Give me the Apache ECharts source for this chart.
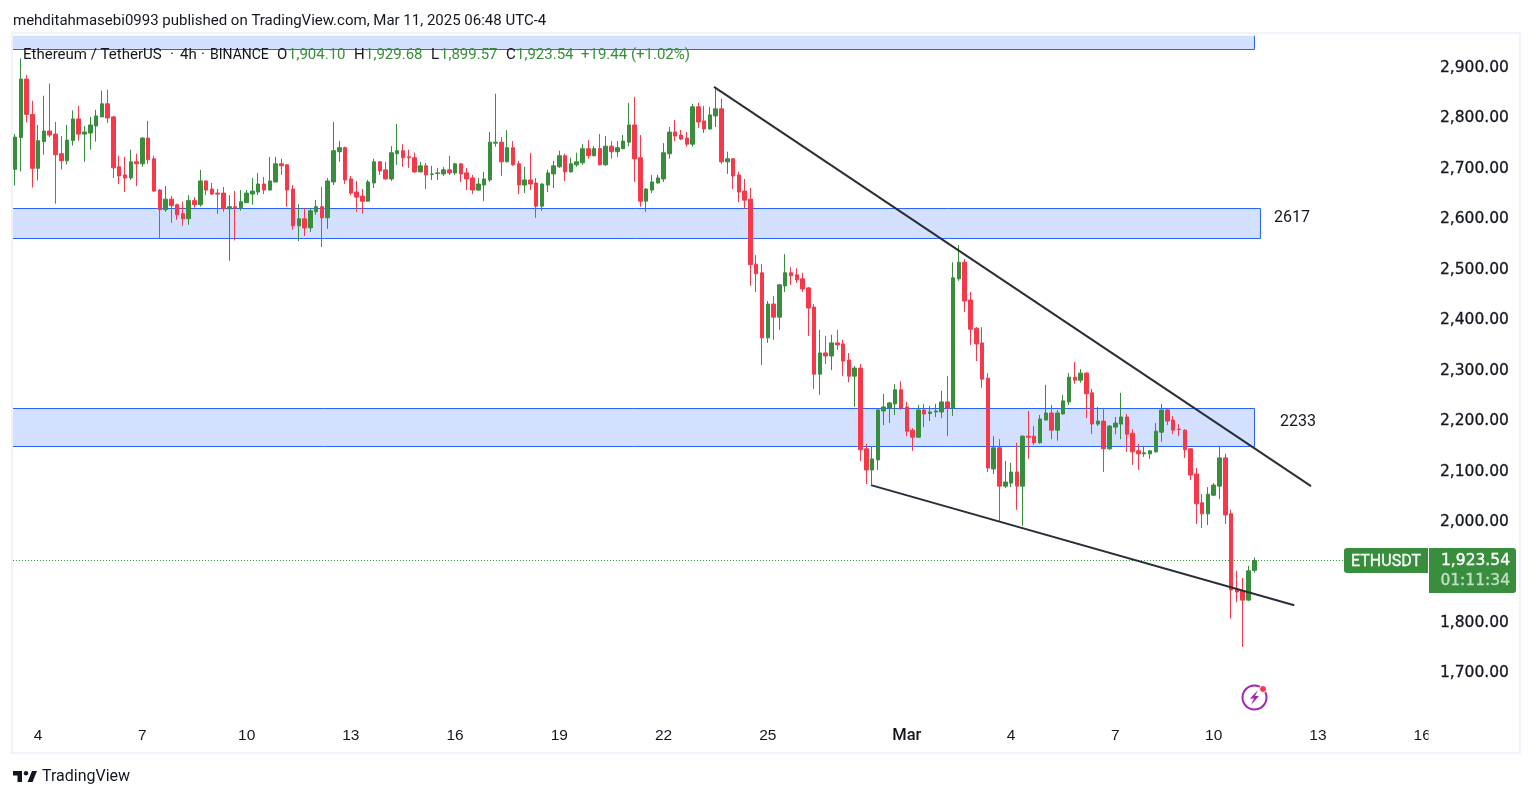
<!DOCTYPE html>
<html>
<head>
<meta charset="utf-8">
<title>ETHUSDT 4h</title>
<style>
  html, body { margin: 0; padding: 0; background: #fff; }
  #chart { width: 1533px; height: 798px; }
</style>
<script src="https://cdn.jsdelivr.net/npm/echarts@6/dist/echarts.min.js"></script>
</head>
<body>
<div id="chart"></div>
<script>
// 4h candles, about 2 USD per pixel
const opens = [
  2699,2762,2878,2808,2701,2754,2775,2769,2730,2716,
  2756,2799,2769,2771,2785,2803,2829,2803,2704,2688,
  2682,2714,2710,2761,2720,2658,2619,2640,2629,2611,
  2601,2637,2629,2676,2660,2652,2652,2621,2625,2623,
  2633,2650,2654,2670,2658,2674,2710,2708,2660,2587,
  2601,2583,2615,2625,2603,2674,2734,2742,2680,2654,
  2646,2636,2672,2714,2698,2680,2730,2736,2724,2722,
  2694,2706,2689,2691,2690,2698,2692,2710,2692,2682,
  2658,2668,2678,2751,2753,2714,2742,2710,2668,2678,
  2672,2626,2668,2690,2704,2726,2694,2708,2712,2740,
  2726,2740,2708,2745,2734,2740,2753,2787,2722,2636,
  2658,2672,2680,2730,2773,2767,2761,2749,2823,2795,
  2779,2805,2819,2714,2720,2688,2656,2640,2511,2494,
  2365,2432,2406,2468,2494,2490,2482,2464,2426,2293,
  2335,2329,2355,2353,2321,2289,2305,2145,2103,2123,
  2220,2226,2234,2262,2228,2182,2168,2222,2215,2218,
  2218,2238,2226,2482,2515,2440,2384,2355,2285,2105,
  2147,2071,2077,2099,2071,2170,2170,2157,2202,2216,
  2182,2214,2238,2287,2281,2295,2256,2194,2200,2145,
  2188,2194,2208,2176,2141,2135,2135,2139,2178,2222,
  2202,2184,2182,2145,2095,2038,2016,2053,2071,2127,
  2016,1867,1863,1845,1904.10
];
const closes = [
  2763,2878,2808,2701,2756,2775,2767,2728,2716,2757,
  2799,2769,2773,2787,2805,2829,2801,2702,2686,2682,
  2714,2710,2761,2718,2656,2619,2640,2627,2609,2601,
  2637,2629,2676,2658,2650,2650,2621,2625,2623,2635,
  2652,2656,2670,2658,2676,2710,2706,2658,2587,2601,
  2583,2617,2625,2603,2676,2736,2742,2678,2652,2644,
  2636,2674,2714,2696,2680,2732,2736,2722,2722,2694,
  2706,2688,2690,2692,2698,2692,2710,2690,2680,2658,
  2670,2680,2753,2753,2714,2742,2708,2668,2678,2670,
  2626,2670,2692,2706,2726,2694,2710,2714,2740,2726,
  2740,2708,2745,2734,2742,2755,2787,2720,2636,2660,
  2674,2682,2732,2773,2765,2759,2749,2823,2793,2779,
  2807,2819,2714,2720,2686,2654,2638,2510,2492,2365,
  2432,2406,2470,2494,2488,2480,2462,2424,2293,2335,
  2329,2355,2351,2319,2289,2305,2143,2103,2125,2222,
  2228,2236,2262,2226,2180,2168,2222,2214,2218,2220,
  2238,2226,2484,2515,2438,2382,2353,2283,2107,2147,
  2071,2079,2099,2071,2170,2168,2157,2204,2216,2182,
  2216,2240,2287,2281,2295,2254,2194,2200,2145,2190,
  2196,2208,2174,2139,2135,2137,2141,2180,2222,2200,
  2182,2183,2143,2093,2036,2016,2055,2073,2127,2014,
  1865,1861,1845,1903,1923.54
];
const lows = [
  2667,2695,2792,2663,2677,2728,2763,2631,2699,2709,
  2746,2756,2714,2738,2754,2803,2791,2682,2670,2654,
  2678,2666,2704,2710,2654,2561,2615,2593,2599,2587,
  2589,2623,2625,2648,2648,2611,2615,2518,2558,2617,
  2633,2629,2648,2650,2657,2673,2688,2625,2579,2557,
  2567,2575,2609,2545,2581,2668,2714,2670,2648,2615,
  2611,2635,2662,2688,2679,2676,2708,2704,2702,2692,
  2693,2660,2678,2678,2686,2688,2688,2674,2658,2650,
  2656,2636,2674,2744,2686,2713,2706,2650,2652,2658,
  2603,2617,2654,2662,2702,2676,2693,2704,2708,2720,
  2725,2707,2706,2720,2724,2739,2745,2674,2625,2615,
  2652,2671,2674,2720,2755,2757,2744,2744,2781,2771,
  2778,2783,2710,2690,2660,2634,2621,2468,2456,2311,
  2355,2361,2381,2456,2470,2474,2456,2369,2264,2252,
  2313,2301,2341,2289,2277,2228,2121,2075,2075,2103,
  2192,2196,2212,2222,2170,2141,2167,2188,2200,2208,
  2206,2170,2210,2478,2416,2351,2319,2266,2099,2095,
  2002,2067,2069,2024,1992,2125,2153,2155,2201,2164,
  2161,2213,2232,2274,2276,2206,2174,2190,2099,2143,
  2174,2164,2139,2113,2103,2129,2125,2137,2159,2192,
  2174,2170,2127,2083,1996,1988,1994,2051,2045,1996,
  1808,1841,1752,1843,1899.57
];
const highs = [
  2769,2919,2886,2835,2787,2845,2869,2793,2765,2787,
  2816,2825,2785,2803,2817,2855,2857,2805,2726,2724,
  2738,2730,2763,2795,2726,2660,2666,2646,2631,2635,
  2648,2644,2698,2677,2672,2660,2664,2648,2656,2658,
  2658,2682,2692,2684,2724,2724,2720,2709,2668,2630,
  2622,2622,2638,2664,2682,2793,2755,2744,2686,2676,
  2660,2678,2720,2715,2714,2745,2789,2749,2738,2732,
  2714,2712,2706,2702,2704,2726,2712,2711,2702,2688,
  2682,2694,2773,2849,2763,2777,2755,2716,2704,2732,
  2682,2671,2698,2716,2736,2730,2722,2732,2749,2757,
  2745,2769,2765,2755,2755,2767,2831,2843,2767,2662,
  2688,2688,2751,2783,2797,2777,2773,2829,2831,2825,
  2823,2861,2839,2734,2721,2694,2680,2662,2529,2511,
  2438,2448,2472,2531,2505,2503,2494,2466,2432,2381,
  2369,2371,2381,2361,2335,2309,2313,2155,2150,2226,
  2254,2238,2273,2279,2238,2186,2232,2234,2230,2234,
  2260,2289,2515,2549,2521,2456,2386,2386,2295,2170,
  2164,2121,2117,2157,2172,2220,2190,2212,2272,2232,
  2222,2252,2295,2317,2303,2297,2264,2228,2226,2192,
  2208,2256,2214,2184,2155,2151,2142,2196,2234,2224,
  2210,2194,2184,2146,2107,2055,2069,2077,2151,2135,
  2024,1903,1889,1913,1929.68
];

// slots on the time axis, the last ones stay empty
const slotCount = 245;
const tickSlots = [4, 22, 40, 58, 76, 94, 112, 130, 154, 172, 190, 207, 225, 243];
const tickLabels = ['4', '7', '10', '13', '16', '19', '22', '25', 'Mar', '4', '7', '10', '13', '16'];

const lastPrice = 1923.54;
const priceMin = 1600;
const priceMax = 2964;
const priceStep = 100;

// [slot where it starts, slot where it ends, low, high]
const zoneTop = [-0.35, 214.04, 2936.64, 2964];
const zone2617 = [-0.35, 215.07, 2561.94, 2621.4];
const zone2233 = [-0.35, 214.04, 2149.57, 2224.9];

// [slot, price]
const trendUpper = [[120.7, 2862.5], [223.8, 2071]];
const trendLower = [[147.8, 2073], [220.9, 1835]];
const lastPriceLine = [[-0.35, lastPrice], [229.7, lastPrice]];

const UP = '#388e3c';
const DOWN = '#f7374a';
const INK = '#131722';
const ZONE_LINE = '#2962ff';
const UI_FONT = 'Roboto, sans-serif';
const PRICE_FONT = '"DejaVu Sans", sans-serif';

const slots = [];
for (let i = 0; i < slotCount; i++) slots.push(String(i));
const candles = opens.map((o, i) => [o, closes[i], lows[i], highs[i]]);

function zoneArea(z) {
  return [{ coord: [z[0], z[3]] }, { coord: [z[1], z[2]] }];
}

// no border on the left, the zones run off the chart there
function zoneOutline(z) {
  return {
    type: 'line', xAxisIndex: 1, z: 1, symbol: 'none', silent: true,
    data: [[z[0], z[3]], [z[1], z[3]], [z[1], z[2]], [z[0], z[2]]],
    lineStyle: { color: ZONE_LINE, width: 1 }
  };
}

function text(x, y, str, size, color, extra) {
  return {
    type: 'text', x: x, y: y, z: 20,
    style: Object.assign({
      text: str, fill: color, fontFamily: UI_FONT, fontSize: size,
      verticalAlign: 'middle', align: 'left'
    }, extra || {})
  };
}

const graphics = [
  // chart frame
  { type: 'rect', z: -1, shape: { x: 12, y: 33, width: 1508, height: 720 },
    style: { fill: 'none', stroke: '#f0f3fa', lineWidth: 2 } },

  text(13, 21, 'mehditahmasebi0993 published on TradingView.com, Mar 11, 2025 06:48 UTC-4', 15, INK),

  // legend row
  text(23, 55, 'Ethereum / TetherUS', 15, INK),
  text(170, 55, '·', 15, INK),
  text(180, 55, '4h', 15, INK),
  text(201, 55, '·', 15, INK),
  text(210, 55, 'BINANCE', 14, INK),
  text(277, 55, 'O', 15, INK),
  text(288, 55, '1,904.10', 15, UP),
  text(354, 55, 'H', 15, INK),
  text(365, 55, '1,929.68', 15, UP),
  text(431, 55, 'L', 15, INK),
  text(440, 55, '1,899.57', 15, UP),
  text(506, 55, 'C', 15, INK),
  text(516, 55, '1,923.54', 15, UP),
  text(581, 55, '+19.44 (+1.02%)', 15, UP),

  // zone notes
  text(1274, 218, '2617', 16, INK),
  text(1280, 422, '2233', 16, INK),

  // last price tags
  { type: 'rect', z: 19, shape: { x: 1344, y: 548, width: 84, height: 25, r: [3, 0, 0, 3] }, style: { fill: UP } },
  { type: 'rect', z: 19, shape: { x: 1429, y: 548, width: 87, height: 45, r: [0, 3, 3, 0] }, style: { fill: UP } },
  text(1386, 562, 'ETHUSDT', 16, '#fff', { align: 'center', stroke: '#fff', lineWidth: 0.3 }),
  text(1510, 561, '1,923.54', 15.5, '#fff', { align: 'right', fontFamily: PRICE_FONT, stroke: '#fff', lineWidth: 0.4 }),
  text(1510, 581, '01:11:34', 15.5, '#c3ddc5', { align: 'right', fontFamily: PRICE_FONT, stroke: '#c3ddc5', lineWidth: 0.4 }),

  // the last date label is cut by the price scale
  { type: 'rect', z: 18, shape: { x: 1428.5, y: 724, width: 8, height: 22 }, style: { fill: '#fff' } },

  // lightning badge
  { type: 'circle', z: 19, shape: { cx: 1254.5, cy: 697.5, r: 12 },
    style: { fill: 'none', stroke: '#9c27b0', lineWidth: 2 } },
  { type: 'polygon', z: 19, shape: { points: [[1258, 690], [1250, 698.5], [1254, 698.5], [1251, 705], [1259, 696], [1255, 696]] },
    style: { fill: '#9c27b0' } },
  { type: 'circle', z: 20, shape: { cx: 1263, cy: 689, r: 3.5 },
    style: { fill: '#f7374a', stroke: '#fff', lineWidth: 1 } },

  // logo
  { type: 'polygon', z: 19, shape: { points: [[13, 771], [22, 771], [22, 782], [17.5, 782], [17.5, 775.5], [13, 775.5]] }, style: { fill: INK } },
  { type: 'circle', z: 19, shape: { cx: 26, cy: 773.2, r: 2.2 }, style: { fill: INK } },
  { type: 'polygon', z: 19, shape: { points: [[32, 771], [37, 771], [32.5, 782], [27.5, 782]] }, style: { fill: INK } },
  text(42, 777, 'TradingView', 16, INK)
];

const chart = echarts.init(document.getElementById('chart'));
chart.setOption({
  animation: false,
  backgroundColor: '#fff',
  graphic: graphics,
  grid: { left: 12.1, top: 35.7, width: 1418.8, height: 688, containLabel: false },
  xAxis: [
    {
      type: 'category',
      data: slots,
      boundaryGap: true,
      axisLine: { show: false },
      axisTick: { show: false },
      splitLine: { show: false },
      axisLabel: {
        margin: 4,
        fontFamily: 'Liberation Sans, sans-serif',
        fontSize: 15.5,
        color: INK,
        interval: (i) => tickSlots.includes(i),
        formatter: (v, i) => {
          const label = tickLabels[tickSlots.indexOf(i)];
          return label === 'Mar' ? '{b|Mar}' : label;
        },
        rich: { b: { fontWeight: 500, fontSize: 16.5, fontFamily: UI_FONT, color: INK } }
      }
    },
    // plain number axis for the zones and trend lines, they sit between candles
    { type: 'value', show: false, min: -0.5, max: slotCount - 0.5, splitLine: { show: false } }
  ],
  yAxis: {
    type: 'value',
    position: 'right',
    min: priceMin,
    max: priceMax,
    interval: priceStep,
    axisLine: { show: false },
    axisTick: { show: false },
    splitLine: { show: false },
    axisLabel: {
      showMinLabel: false,
      showMaxLabel: false,
      margin: 9,
      fontFamily: PRICE_FONT,
      fontSize: 15.5,
      color: INK,
      textBorderColor: INK,
      textBorderWidth: 0.3,
      formatter: (v) => v.toLocaleString('en-US', { minimumFractionDigits: 2 })
    }
  },
  series: [
    {
      type: 'line', xAxisIndex: 1, data: [], silent: true, z: 1,
      markArea: {
        silent: true,
        itemStyle: { color: '#d4e0ff', borderWidth: 0 },
        data: [zoneArea(zoneTop), zoneArea(zone2617), zoneArea(zone2233)]
      }
    },
    // the top zone has no top edge in view, its outline runs along the chart's rim
    {
      type: 'line', xAxisIndex: 1, z: 1, symbol: 'none', silent: true,
      data: [[zoneTop[1], zoneTop[3]], [zoneTop[1], zoneTop[2]], [zoneTop[0], zoneTop[2]]],
      lineStyle: { color: ZONE_LINE, width: 1 }
    },
    zoneOutline(zone2617),
    zoneOutline(zone2233),
    {
      type: 'line', xAxisIndex: 1, data: lastPriceLine, z: 2, symbol: 'none',
      lineStyle: { color: UP, width: 1, type: [1, 2] }
    },
    {
      type: 'candlestick',
      data: candles,
      barWidth: 4,
      z: 3,
      itemStyle: { color: UP, color0: DOWN, borderColor: UP, borderColor0: DOWN, borderWidth: 1 }
    },
    { type: 'line', xAxisIndex: 1, data: trendUpper, z: 4, symbol: 'none', lineStyle: { color: '#2a2e39', width: 2 } },
    { type: 'line', xAxisIndex: 1, data: trendLower, z: 4, symbol: 'none', lineStyle: { color: '#2a2e39', width: 2 } }
  ]
});
</script>
</body>
</html>
